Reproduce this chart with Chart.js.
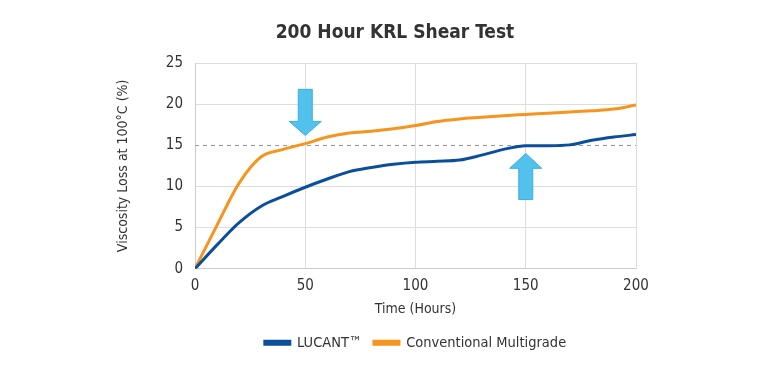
<!DOCTYPE html>
<html><head><meta charset="utf-8">
<script src="https://cdn.jsdelivr.net/npm/chart.js@4/dist/chart.umd.min.js"></script>
<style>html,body{margin:0;padding:0;background:#fff}#wrap{width:770px;height:374px}</style>
</head><body><div id="wrap"><canvas id="c" width="770" height="374"></canvas></div>
<script>
const hours = [0,10,20,30,40,50,60,70,80,90,100,110,120,130,140,150,160,170,180,190,200];
const lucant = [0,2.9,5.6,7.6,8.8,9.9,10.9,11.8,12.3,12.7,12.95,13.05,13.2,13.8,14.5,14.95,14.95,15.05,15.6,16.0,16.3];
const conventional = [0,5.3,10.4,13.6,14.5,15.2,16.0,16.5,16.7,17.0,17.4,17.9,18.2,18.4,18.6,18.75,18.9,19.05,19.2,19.4,19.9];
const seriesNames = ['LUCANT™','Conventional Multigrade'];
const xTicks = [0,50,100,150,200];
const yTicks = [0,5,10,15,20,25];
const refLine = 15;
const chartTitle = '200 Hour KRL Shear Test';

const FONT = "'DejaVu Sans Condensed','DejaVu Sans',sans-serif";
const TXT = '#333333';

const overlay = {
  id:'overlay',
  beforeDatasetsDraw(chart){
    const {ctx, chartArea:a, scales:{y}} = chart;
    const py = Math.round(y.getPixelForValue(refLine))+0.5;
    ctx.save();
    ctx.strokeStyle='#9a9a9a'; ctx.lineWidth=1; ctx.setLineDash([4,4]);
    ctx.beginPath(); ctx.moveTo(a.left,py); ctx.lineTo(a.right,py); ctx.stroke();
    ctx.restore();
  },
  afterDatasetsDraw(chart){
    const {ctx, scales:{x,y}} = chart;
    function arrow(xv, yFrom, yBase, yTip){
      const cx = x.getPixelForValue(xv);
      const p0 = y.getPixelForValue(yFrom), pb = y.getPixelForValue(yBase), pt = y.getPixelForValue(yTip);
      const sw = 7, hw = 16;
      ctx.beginPath();
      ctx.moveTo(cx-sw,p0); ctx.lineTo(cx+sw,p0); ctx.lineTo(cx+sw,pb); ctx.lineTo(cx+hw,pb);
      ctx.lineTo(cx,pt); ctx.lineTo(cx-hw,pb); ctx.lineTo(cx-sw,pb); ctx.closePath();
      ctx.fillStyle='#52C1EC'; ctx.fill();
      ctx.strokeStyle='#3DAEDC'; ctx.lineWidth=1; ctx.stroke();
    }
    ctx.save();
    arrow(50, 21.8, 17.9, 16.2);
    arrow(150, 8.4, 12.2, 14.0);
    ctx.restore();
  },
  afterDraw(chart){
    const ctx = chart.ctx;
    ctx.save();
    ctx.fillStyle = TXT;
    ctx.font = "bold 19px " + FONT;
    ctx.textAlign = 'center'; ctx.textBaseline = 'middle';
    ctx.fillText(chartTitle, chart.width/2 + 10, 33);
    ctx.restore();
  }
};

new Chart(document.getElementById('c'), {
  type:'line',
  data:{
    datasets:[
      {label:seriesNames[0], data:hours.map((h,i)=>({x:h,y:lucant[i]})), borderColor:'#0B4F9C', backgroundColor:'#0B4F9C', borderWidth:3, pointRadius:0, cubicInterpolationMode:'monotone', fill:false},
      {label:seriesNames[1], data:hours.map((h,i)=>({x:h,y:conventional[i]})), borderColor:'#F7941D', backgroundColor:'#F7941D', borderWidth:3, pointRadius:0, cubicInterpolationMode:'monotone', fill:false}
    ]
  },
  options:{
    responsive:false, animation:false, devicePixelRatio:1,
    layout:{padding:{left:115,right:134,top:63,bottom:14}},
    plugins:{
      title:{display:false},
      legend:{position:'bottom', fullSize:false, labels:{color:TXT, font:{family:FONT, size:14.5}, boxWidth:25, boxHeight:3, padding:12}},
      tooltip:{enabled:false}
    },
    scales:{
      x:{type:'linear', min:0, max:200,
        afterBuildTicks(s){ s.ticks = xTicks.map(v=>({value:v})); },
        grid:{color:'#dddddd', drawTicks:false},
        border:{color:'#cccccc'},
        ticks:{color:TXT, font:{family:FONT,size:15}, padding:8},
        title:{display:true, text:'Time (Hours)', color:TXT, font:{family:FONT,size:14}, padding:{top:-2,bottom:6}}
      },
      y:{min:0, max:25,
        afterBuildTicks(s){ s.ticks = yTicks.map(v=>({value:v})); },
        afterFit(s){ s.width = 80; },
        grid:{color:(c)=> c.tick && c.tick.value===refLine ? 'rgba(0,0,0,0)' : '#dddddd', drawTicks:false},
        border:{color:'#cccccc'},
        ticks:{color:TXT, font:{family:FONT,size:15}, padding:12},
        title:{display:true, text:'Viscosity Loss at 100°C (%)', color:TXT, font:{family:FONT,size:14}, padding:{top:0,bottom:4}}
      }
    }
  },
  plugins:[overlay]
});
</script></body></html>
